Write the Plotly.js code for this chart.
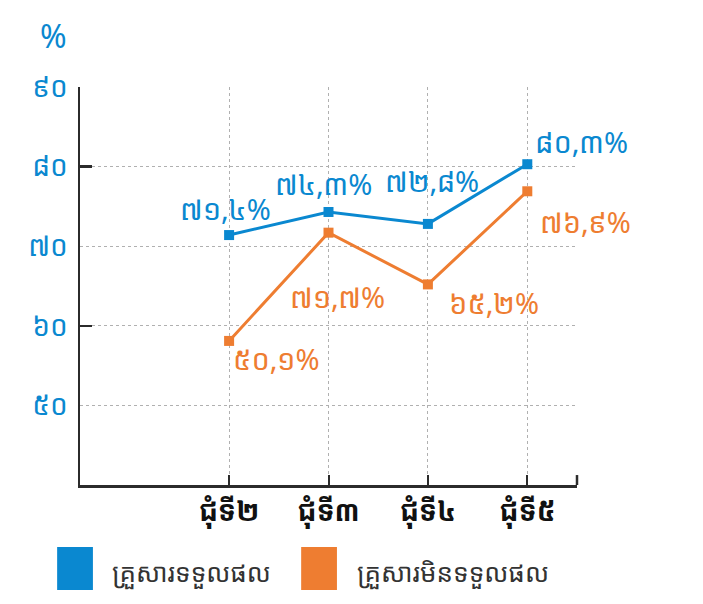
<!DOCTYPE html>
<html>
<head>
<meta charset="utf-8">
<script src="https://cdn.plot.ly/plotly-3.0.1.min.js"></script>
<style>
  body { margin: 0; background: #fff; }
  #chart { width: 703px; height: 604px; }
</style>
</head>
<body>
<div id="chart"></div>
<script>
// rounds (x categories)
var rounds = ['ជុំទី២', 'ជុំទី៣', 'ជុំទី៤', 'ជុំទី៥'];
// series names
var nameA = 'គ្រួសារទទួលផល';
var nameB = 'គ្រួសារមិនទទួលផល';
// values in percent
var valsA = [71.4, 74.3, 72.8, 80.3];
var valsB = [58.1, 71.7, 65.2, 76.9];
// labels as printed on the chart
var labelsA = ['៧១,៤%', '៧៤,៣%', '៧២,៨%', '៨០,៣%'];
var labelsB = ['៥០,១%', '៧១,៧%', '៦៥,២%', '៧៦,៩%'];
// y ticks
var yTickVals = [50, 60, 70, 80, 90];
var yTickText = ['៥០', '៦០', '៧០', '៨០', '៩០'];

var BLUE = '#0a88d0';
var ORANGE = '#ee7d31';
var KH = '"Noto Sans Khmer", "Khmer OS", "Noto Sans", sans-serif';

var traceA = {
  x: rounds, y: valsA, type: 'scatter', mode: 'lines+markers', name: nameA,
  line: {color: BLUE, width: 3},
  marker: {color: BLUE, symbol: 'square', size: 10},
  hoverinfo: 'none'
};
var traceB = {
  x: rounds, y: valsB, type: 'scatter', mode: 'lines+markers', name: nameB,
  line: {color: ORANGE, width: 3},
  marker: {color: ORANGE, symbol: 'square', size: 10},
  hoverinfo: 'none'
};

// label offsets (pixels) for each point
var offA = [[-4, -27], [-5, -28], [4, -43], [54, -23]];
var offB = [[47, 18], [9, 64], [66, 18], [58, 30]];

var annotations = [];
for (var i = 0; i < rounds.length; i++) {
  annotations.push({
    x: rounds[i], y: valsA[i], xref: 'x', yref: 'y', text: labelsA[i],
    showarrow: true, arrowcolor: 'rgba(0,0,0,0)', ax: offA[i][0], ay: offA[i][1],
    font: {family: KH, size: 29, color: BLUE}
  });
  annotations.push({
    x: rounds[i], y: valsB[i], xref: 'x', yref: 'y', text: labelsB[i],
    showarrow: true, arrowcolor: 'rgba(0,0,0,0)', ax: offB[i][0], ay: offB[i][1],
    font: {family: KH, size: 29, color: ORANGE}
  });
} //end for

// % unit label
annotations.push({
  xref: 'paper', yref: 'paper', x: -0.085, y: 1.13, yanchor: 'middle', text: '%', showarrow: false,
  font: {family: KH, size: 32, color: BLUE}
});
// legend text
annotations.push({
  xref: 'paper', yref: 'paper', x: 0.06, y: -0.218, yanchor: 'middle', xanchor: 'left', text: nameA, showarrow: false,
  font: {family: KH, size: 26, color: '#333'}
});
annotations.push({
  xref: 'paper', yref: 'paper', x: 0.553, y: -0.218, yanchor: 'middle', xanchor: 'left', text: nameB, showarrow: false,
  font: {family: KH, size: 26, color: '#333'}
});

var shapes = [
  // legend swatches
  {type: 'rect', xref: 'paper', yref: 'paper', x0: -0.046, x1: 0.026, y0: -0.264, y1: -0.156,
   fillcolor: BLUE, line: {width: 0}},
  {type: 'rect', xref: 'paper', yref: 'paper', x0: 0.445, x1: 0.517, y0: -0.264, y1: -0.156,
   fillcolor: ORANGE, line: {width: 0}},
  // end tick on x axis
  {type: 'line', xref: 'paper', yref: 'paper', x0: 1, x1: 1, y0: 0, y1: 0.025,
   line: {color: '#2b2b2b', width: 2.5}}
];

var layout = {
  width: 703, height: 604,
  margin: {l: 80, r: 126, t: 87, b: 119},
  paper_bgcolor: '#fff', plot_bgcolor: '#fff',
  showlegend: false,
  xaxis: {
    type: 'category', range: [-1.5, 3.5],
    showline: true, linecolor: '#2b2b2b', linewidth: 2.5,
    ticks: 'inside', ticklen: 10, tickwidth: 2, tickcolor: '#2b2b2b',
    showgrid: true, gridcolor: '#b0b0b0', griddash: 'dot', gridwidth: 1,
    tickfont: {family: KH, size: 28, color: '#111', weight: 'bold'},
    fixedrange: true
  },
  yaxis: {
    range: [40, 90],
    tickvals: yTickVals, ticktext: yTickText,
    showline: true, linecolor: '#2b2b2b', linewidth: 2.5,
    ticks: '', zeroline: false,
    showgrid: true, gridcolor: '#b0b0b0', griddash: 'dot', gridwidth: 1,
    minor: {tickvals: [60, 80], ticks: 'inside', ticklen: 12, tickwidth: 2.5, tickcolor: '#2b2b2b', showgrid: false},
    tickfont: {family: KH, size: 28, color: BLUE},
    ticklabelstandoff: 4,
    fixedrange: true
  },
  annotations: annotations,
  shapes: shapes
};

Plotly.newPlot('chart', [traceA, traceB], layout, {staticPlot: true});
</script>
</body>
</html>
